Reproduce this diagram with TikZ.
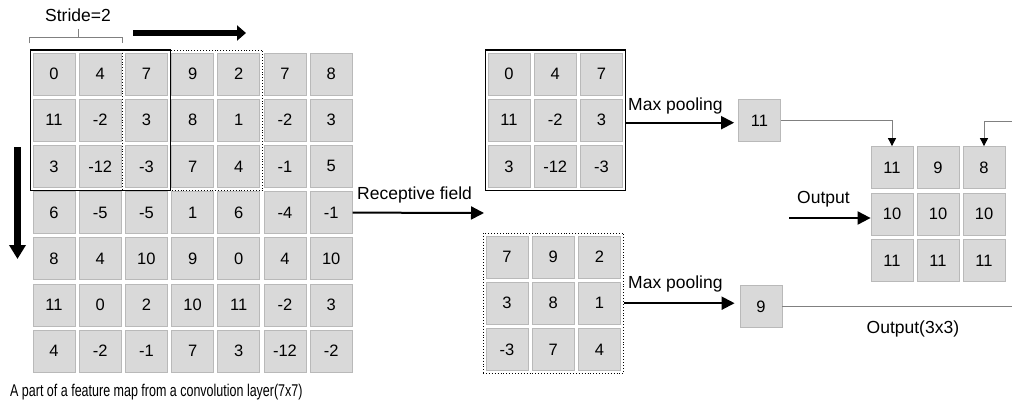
\documentclass[tikz,border=0pt]{standalone}
\usepackage{fontspec}
\usepackage{graphicx}
\setmainfont{Liberation Sans}
\usetikzlibrary{arrows.meta,fit,calc}

\begin{document}
\begin{tikzpicture}[x=1pt,y=-1pt,
  cell/.style={draw=gray!55, fill=gray!30, line width=0.8pt,
    minimum width=42pt, minimum height=42pt, inner sep=0pt,
    font=\fontsize{16.5}{16.5}\selectfont},
  lbl/.style={font=\fontsize{17.5}{18}\selectfont, inner sep=0pt, anchor=base west},
  winsolid/.style={draw=black, line width=1.2pt, inner sep=2.5pt},
  windotted/.style={draw=black, dotted, line width=0.9pt, inner sep=2.5pt},
  bigarrow/.style={line width=2pt, -{Triangle[length=13pt,width=13pt]}},
  thinlink/.style={draw=gray, line width=0.9pt},
  thinarrow/.style={thinlink, -{Triangle[length=8pt,width=8pt,color=black]}},
  stridearrow/.style={line width=6.5pt}
]
\fill[white] (0,0) rectangle (1012,404);
\useasboundingbox (0,0) rectangle (1012,404);

% 7x7 feature map
\foreach \vals [count=\r] in {{0,4,7,9,2,7,8},{11,-2,3,8,1,-2,3},{3,-12,-3,7,4,-1,5},
  {6,-5,-5,1,6,-4,-1},{8,4,10,9,0,4,10},{11,0,2,10,11,-2,3},{4,-2,-1,7,3,-12,-2}} {
  \foreach \v [count=\c] in \vals {
    \node[cell] (a-\r-\c) at ({54+46.2*(\c-1)},{74+46.2*(\r-1)}) {\v};
  }
}
\node[fit=(a-1-1)(a-3-3), winsolid] (win1) {};
\node[fit=(a-1-3)(a-3-5), windotted] (win2) {};

% stride bracket and label
\draw[thinlink, line width=0.8pt] (29,43.5) -- (29,37) -- (122,37) -- (122,43.5);
\draw[thinlink, line width=0.8pt] (78,37) -- (78,29);
\node[lbl] (stride) at (45,22) {Stride=2};

% sliding directions
\coordinate (hs) at (133,33);
\coordinate (he) at (246,33);
\draw[stridearrow, -{Triangle[length=9pt,width=15pt]}] (hs) -- (he);
\coordinate (vs) at (17.5,147);
\coordinate (ve) at (17.5,259);
\draw[stridearrow, line width=7.5pt, -{Triangle[length=14pt,width=16pt]}] (vs) -- (ve);

\node[anchor=base west, inner sep=0pt, font=\fontsize{17}{17}\selectfont] (cap) at (10,396.7)
  {\scalebox{0.735}[1]{A part of a feature map from a convolution layer(7x7)}};

% receptive fields
\foreach \vals [count=\r] in {{0,4,7},{11,-2,3},{3,-12,-3}} {
  \foreach \v [count=\c] in \vals {
    \node[cell] (t-\r-\c) at ({509+46.2*(\c-1)},{74+46.2*(\r-1)}) {\v};
  }
}
\node[fit=(t-1-1)(t-3-3), winsolid] (ta) {};

\foreach \vals [count=\r] in {{7,9,2},{3,8,1},{-3,7,4}} {
  \foreach \v [count=\c] in \vals {
    \node[cell] (b-\r-\c) at ({507+46.2*(\c-1)},{257+46.2*(\r-1)}) {\v};
  }
}
\node[fit=(b-1-1)(b-3-3), windotted] (bb) {};

\coordinate (rf) at (484,213);
\draw[bigarrow] (a-4-7.east) -- (rf);
\node[lbl] (rflbl) at (357,199) {Receptive field};

% pooled values
\node[cell] (p1) at (759.5,120.5) {11};
\node[cell] (p2) at (761,306.5) {9};

\draw[bigarrow] ($(ta.east)+(0,2.5)$) -- ($(ta.east -| p1.west)+(-4,2.5)$);
\node[lbl] (mp1) at (628,110.7) {Max pooling};
\draw[bigarrow] (bb.east) -- ($(bb.east -| p2.west)+(-5,0)$);
\node[lbl] (mp2) at (628,288.5) {Max pooling};

% output map
\foreach \vals [count=\r] in {{11,9,8},{10,10,10},{11,11,11}} {
  \foreach \v [count=\c] in \vals {
    \node[cell] (o-\r-\c) at ({892+46*(\c-1)},{167.5+46.5*(\r-1)}) {\v};
  }
}

\draw[thinarrow] (p1.east) -| (o-1-1.north);
\coordinate (rin) at (1012,121);
\draw[thinarrow] (rin) -| (o-1-3.north);
\coordinate (rout) at (1012,306.5);
\draw[thinlink] (p2.east) -- (rout);

\coordinate (os) at (789,218);
\draw[bigarrow] (os) -- (os -| o-2-1.west);
\node[lbl] (outlbl) at (797,203.3) {Output};
\node[lbl] (outsz) at (866.5,333.3) {Output(3x3)};
\end{tikzpicture}
\end{document}
